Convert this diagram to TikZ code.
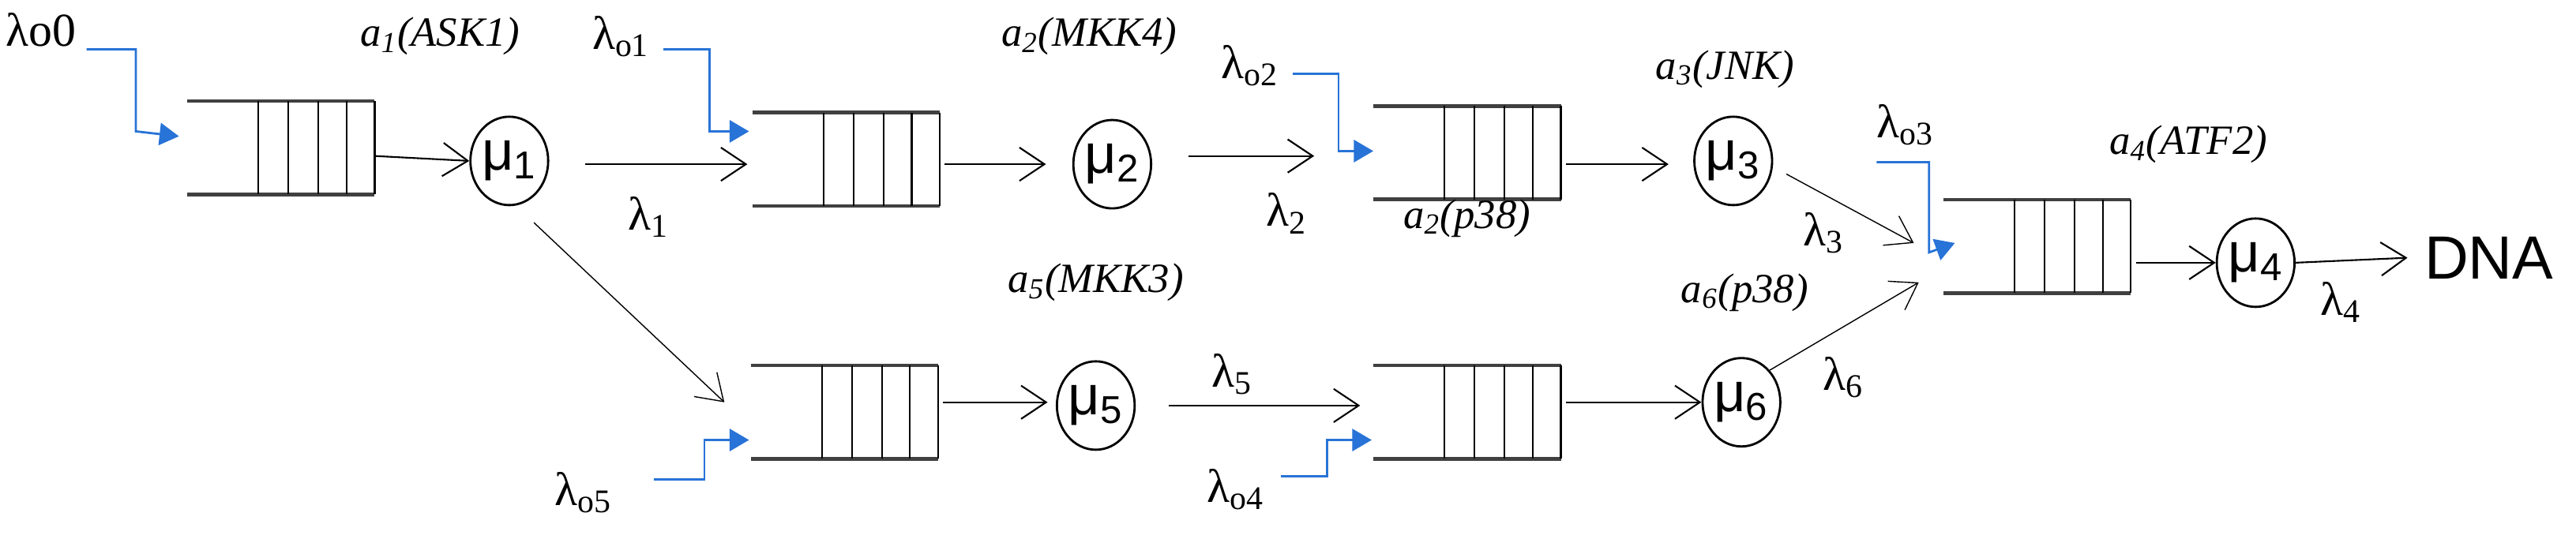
\documentclass[tikz,border=0pt]{standalone}
\usepackage{fontspec}
\setmainfont{Liberation Serif}
\newfontfamily\sansf{Liberation Sans}
\usetikzlibrary{arrows.meta,calc,shapes.geometric}
\definecolor{inblue}{RGB}{40,115,215}
\tikzset{
  qbox/.style={draw=none,minimum width=2.36cm,minimum height=1.17cm,inner sep=0},
  srv/.style={draw,thick,ellipse,minimum width=0.98cm,minimum height=1.12cm,inner sep=0,font=\sansf\fontsize{20}{20}\selectfont},
  flow/.style={-{Straight Barb[length=9pt,width=12pt]},line width=0.6pt},
  inflow/.style={inblue,line width=0.8pt,-{Triangle[length=7pt,width=8pt]}},
  lab/.style={font=\fontsize{15}{15}\selectfont\itshape,inner sep=0},
  lam/.style={font=\fontsize{17}{17}\selectfont,inner sep=0},
}
\newcommand\myqueue[3]{%
  \node[qbox] (#1) at (#2,#3) {};
  \draw[line width=1.3pt,black!75] (#1.north west) -- (#1.north east);
  \draw[line width=1.3pt,black!75] (#1.south west) -- (#1.south east);
  \foreach \f in {0.38,0.54,0.70,0.85,1.0}
    \draw[line width=0.6pt] ($(#1.north west)!\f!(#1.north east)$) -- ($(#1.south west)!\f!(#1.south east)$);
}
\begin{document}
\begin{tikzpicture}[x=0.0208cm,y=-0.0208cm]
\useasboundingbox (0,0) rectangle (1568,337);
% queues
\myqueue{q1}{171}{90}
\myqueue{q2}{515}{97}
\myqueue{q3}{893}{93}
\myqueue{q4}{1240}{150}
\myqueue{q5}{514}{251}
\myqueue{q6}{893}{251}
% servers
\node[srv] (m1) at (310,98) {μ\textsubscript{1}};
\node[srv] (m2) at (677,100) {μ\textsubscript{2}};
\node[srv] (m3) at (1055,98) {μ\textsubscript{3}};
\node[srv] (m4) at (1373,160) {μ\textsubscript{4}};
\node[srv] (m5) at (667,247) {μ\textsubscript{5}};
\node[srv] (m6) at (1060,245) {μ\textsubscript{6}};
\node[font=\sansf\fontsize{22}{22}\selectfont,inner sep=0] (dna) at (1515,157) {DNA};
% labels
\node[lab] (la1) at (268,22) {a\textsubscript{1}(ASK1)};
\node[lab] (la2) at (663,22) {a\textsubscript{2}(MKK4)};
\node[lab] (la2b) at (893,133) {a\textsubscript{2}(p38)};
\node[lab] (la3) at (1050,42) {a\textsubscript{3}(JNK)};
\node[lab] (la4) at (1332,88) {a\textsubscript{4}(ATF2)};
\node[lab] (la5) at (667,172) {a\textsubscript{5}(MKK3)};
\node[lab] (la6) at (1062,178) {a\textsubscript{6}(p38)};
\node[lam] (l0) at (25,18) {λo0};
\node[lam] (lo1) at (378,22) {λ\textsubscript{o1}};
\node[lam] (lo2) at (761,40) {λ\textsubscript{o2}};
\node[lam] (lo3) at (1160,76) {λ\textsubscript{o3}};
\node[lam] (lo4) at (752,298) {λ\textsubscript{o4}};
\node[lam] (lo5) at (355,300) {λ\textsubscript{o5}};
\node[lam] (l1) at (395,132) {λ\textsubscript{1}};
\node[lam] (l2) at (783,130) {λ\textsubscript{2}};
\node[lam] (l3) at (1110,142) {λ\textsubscript{3}};
\node[lam] (l4) at (1425,184) {λ\textsubscript{4}};
\node[lam] (l5) at (750,228) {λ\textsubscript{5}};
\node[lam] (l6) at (1122,230) {λ\textsubscript{6}};
% external inflows
\draw[inflow] ($(l0.east)+(6,12)$) -| ++(30,50) -- ($(q1.west)+(-5,-7)$);
\draw[inflow] ($(lo1.east)+(8,8)$) -| ++(28,50) -- ($(q2.west)+(-2,-17)$);
\draw[inflow] ($(lo2.east)+(8,5)$) -| ++(28,47) -- ($(q3.west)+(0,-1)$);
\draw[inflow] ($(lo3.south west)+(0,10)$) -| ++(32,55) -- ($(q4.west)+(7,-2)$);
\draw[inflow] ($(lo5.east)+(25,-8)$) -| ++(31,-24) -- ($(q5.west)+(-1,17)$);
\draw[inflow] ($(lo4.east)+(10,-8)$) -| ++(28,-22) -- ($(q6.west)+(-1,17)$);
% flows
\draw[flow] ($(q1.east)+(0,5)$) -- (m1.west);
\draw[flow] ($(m1.east)+(22,2)$) -- ($(q2.west)+(-3,3)$);
\draw[flow] ($(q2.east)+(3,3)$) -- ($(m2.west)+(-16,0)$);
\draw[flow] ($(m2.east)+(22,-5)$) -- ($(q3.west)+(-36,2)$);
\draw[flow] ($(q3.east)+(3,7)$) -- ($(m3.west)+(-15,2)$);
\draw[flow,line width=0.4pt] ($(m3.east)+(8,8)$) -- ($(q4.west)+(-18,-2)$);
\draw[flow] ($(q4.east)+(3,10)$) -- (m4.west);
\draw[flow] (m4.east) -- ($(dna.west)+(-10,0)$);
\draw[flow,line width=0.4pt] ($(m1.south)+(15,10)$) -- ($(q5.west)+(-16,-6)$);
\draw[flow] ($(q5.east)+(3,-6)$) -- ($(m5.west)+(-5,-2)$);
\draw[flow] ($(m5.east)+(20,0)$) -- ($(q6.west)+(-8,-4)$);
\draw[flow] ($(q6.east)+(3,-6)$) -- (m6.west);
\draw[flow,line width=0.4pt] (m6.north east) -- ($(q4.west)+(-15,22)$);
\end{tikzpicture}
\end{document}
